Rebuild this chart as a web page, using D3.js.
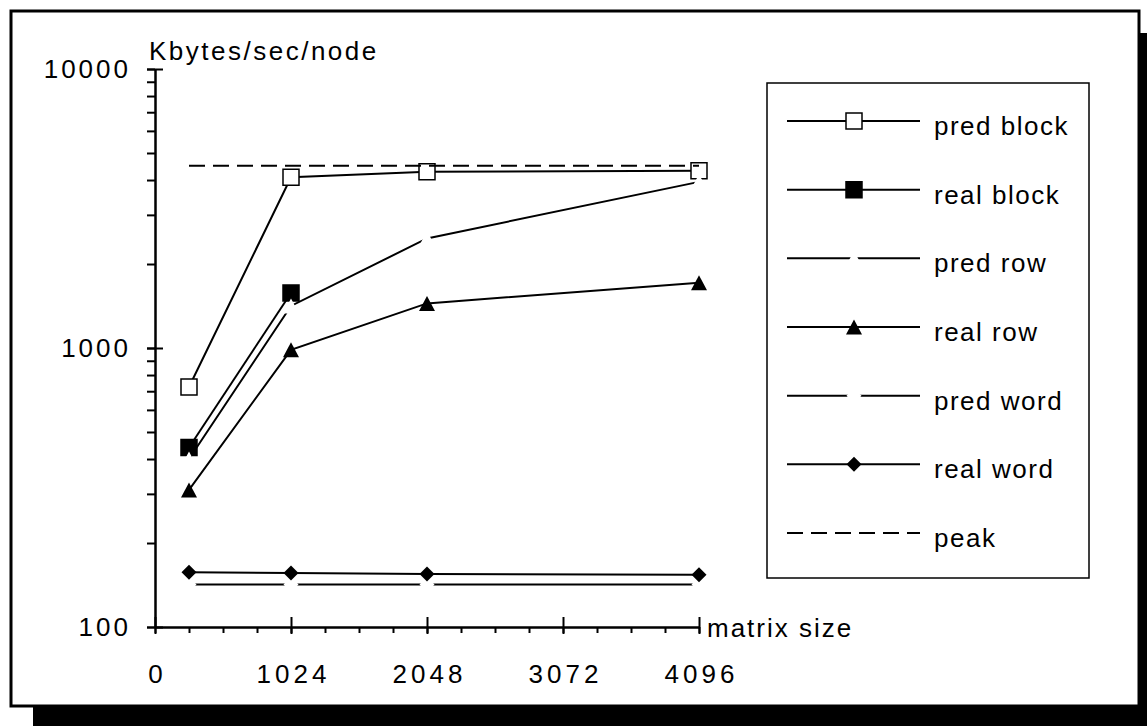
<!DOCTYPE html>
<html>
<head>
<meta charset="utf-8">
<script src="https://cdn.jsdelivr.net/npm/d3@7"></script>
<style>
  body { margin: 0; background: #fff; }
  text { font-family: "Liberation Sans", Arial, Helvetica, sans-serif; fill: #000; }
</style>
</head>
<body>
<svg id="chart" width="1147" height="726"></svg>
<script>
// matrix sizes and measured / predicted bandwidth (Kbytes/sec/node)
var sizes = [256, 1024, 2048, 4096];
var predBlock = [725, 4090, 4280, 4320];
var realBlock = [440, 1575];
var predRow = [400, 1415, 2470, 3940];
var realRow = [310, 985, 1445, 1715];
var predWord = [142, 142, 142, 142];
var realWord = [157, 156, 155, 154];
var peakSizes = [256, 4096];
var peak = [4500, 4500];

var xTicks = [0, 1024, 2048, 3072, 4096];
var yTicks = [100, 1000, 10000];
var seriesNames = ['pred block', 'real block', 'pred row', 'real row', 'pred word', 'real word', 'peak'];

var series = [
  {name: 'pred block', xs: sizes, ys: predBlock, shape: 'square', fill: '#fff', stroke: '#000'},
  {name: 'real block', xs: sizes.slice(0, 2), ys: realBlock, shape: 'square', fill: '#000', stroke: '#000'},
  {name: 'pred row', xs: sizes, ys: predRow, shape: 'triangle', fill: '#fff', stroke: 'none'},
  {name: 'real row', xs: sizes, ys: realRow, shape: 'triangle', fill: '#000', stroke: 'none'},
  {name: 'pred word', xs: sizes, ys: predWord, shape: 'diamond', fill: '#fff', stroke: 'none'},
  {name: 'real word', xs: sizes, ys: realWord, shape: 'diamond', fill: '#000', stroke: 'none'},
  {name: 'peak', xs: peakSizes, ys: peak, shape: null, dash: '16,8'}
];

var shapes = {
  square: 'M-8,-8h16v16h-16z',
  triangle: 'M0,-7.5L8,7.5L-8,7.5Z',
  diamond: 'M0,-7.5L7.5,0L0,7.5L-7.5,0Z'
};

var svg = d3.select('#chart');

// frame with drop shadow
svg.append('rect').attr('x', 33).attr('y', 33).attr('width', 1200).attr('height', 800).attr('fill', '#000');
svg.append('rect').attr('x', 11).attr('y', 11).attr('width', 1128).attr('height', 695)
  .attr('fill', '#fff').attr('stroke', '#000').attr('stroke-width', 3);

var x = d3.scaleLinear().domain([0, 4096]).range([155, 699]);
var y = d3.scaleLog().domain([100, 10000]).range([627, 69]);

// y axis
var yMinorAxis = svg.append('g').attr('transform', 'translate(155,0)')
  .call(d3.axisLeft(y).tickSize(8).tickSizeOuter(0).tickFormat(''));
var yAxis = svg.append('g').attr('transform', 'translate(155,0)')
  .call(d3.axisLeft(y).tickValues(yTicks).tickSize(8).tickSizeOuter(0).tickPadding(16).tickFormat(d3.format('d')));
yAxis.selectAll('.tick line').attr('x1', 8);

// x axis
var xMinorAxis = svg.append('g').attr('transform', 'translate(0,627)')
  .call(d3.axisBottom(x).tickValues(d3.range(0, 4097, 256)).tickSize(6).tickSizeOuter(0).tickFormat(''));
var xAxis = svg.append('g').attr('transform', 'translate(0,627)')
  .call(d3.axisBottom(x).tickValues(xTicks).tickSize(7).tickSizeOuter(0).tickFormat(d3.format('d')));
xAxis.selectAll('.tick line').attr('y1', -10);
xAxis.selectAll('.tick text').attr('y', 56).attr('dy', null).attr('dx', 2);

svg.selectAll('.domain, .tick line').attr('stroke', '#000').attr('stroke-width', 2);
yAxis.selectAll('.tick text').style('font-size', '26px').style('letter-spacing', '3px');
xAxis.selectAll('.tick text').style('font-size', '26px').style('letter-spacing', '4px');

svg.append('text').attr('x', 149).attr('y', 60).style('font-size', '26px').style('letter-spacing', '2.5px')
  .text('Kbytes/sec/node');
svg.append('text').attr('x', 707).attr('y', 637).style('font-size', '26px').style('letter-spacing', '2px')
  .text('matrix size');

// series
var line = d3.line().x(function(d) { return x(d[0]); }).y(function(d) { return y(d[1]); });
series.forEach(function(s) {
  var pts = d3.zip(s.xs, s.ys);
  svg.append('path').datum(pts).attr('d', line)
    .attr('fill', 'none').attr('stroke', '#000').attr('stroke-width', 2)
    .attr('stroke-dasharray', s.dash || null);
  if (s.shape) {
    svg.selectAll(null).data(pts).enter().append('path')
      .attr('d', shapes[s.shape])
      .attr('transform', function(d) { return 'translate(' + x(d[0]) + ',' + y(d[1]) + ')'; })
      .attr('fill', s.fill).attr('stroke', s.stroke).attr('stroke-width', 1.5);
  }
});

// legend
svg.append('rect').attr('x', 767).attr('y', 83).attr('width', 322).attr('height', 495)
  .attr('fill', 'none').attr('stroke', '#000').attr('stroke-width', 1.5);
var ly = d3.scalePoint().domain(seriesNames).range([121, 533]);
var leg = svg.selectAll('.legend').data(series).enter().append('g').attr('class', 'legend')
  .attr('transform', function(d) { return 'translate(0,' + ly(d.name) + ')'; });
leg.append('line').attr('x1', 787).attr('x2', 920)
  .attr('stroke', '#000').attr('stroke-width', 2)
  .attr('stroke-dasharray', function(d) { return d.dash || null; });
leg.filter(function(d) { return d.shape; }).append('path')
  .attr('d', function(d) { return shapes[d.shape]; })
  .attr('transform', 'translate(854,0)')
  .attr('fill', function(d) { return d.fill; })
  .attr('stroke', function(d) { return d.stroke; }).attr('stroke-width', 1.5);
leg.append('text').attr('x', 934).attr('y', 14).style('font-size', '26px').style('letter-spacing', '1.5px')
  .text(function(d) { return d.name; });
</script>
</body>
</html>
